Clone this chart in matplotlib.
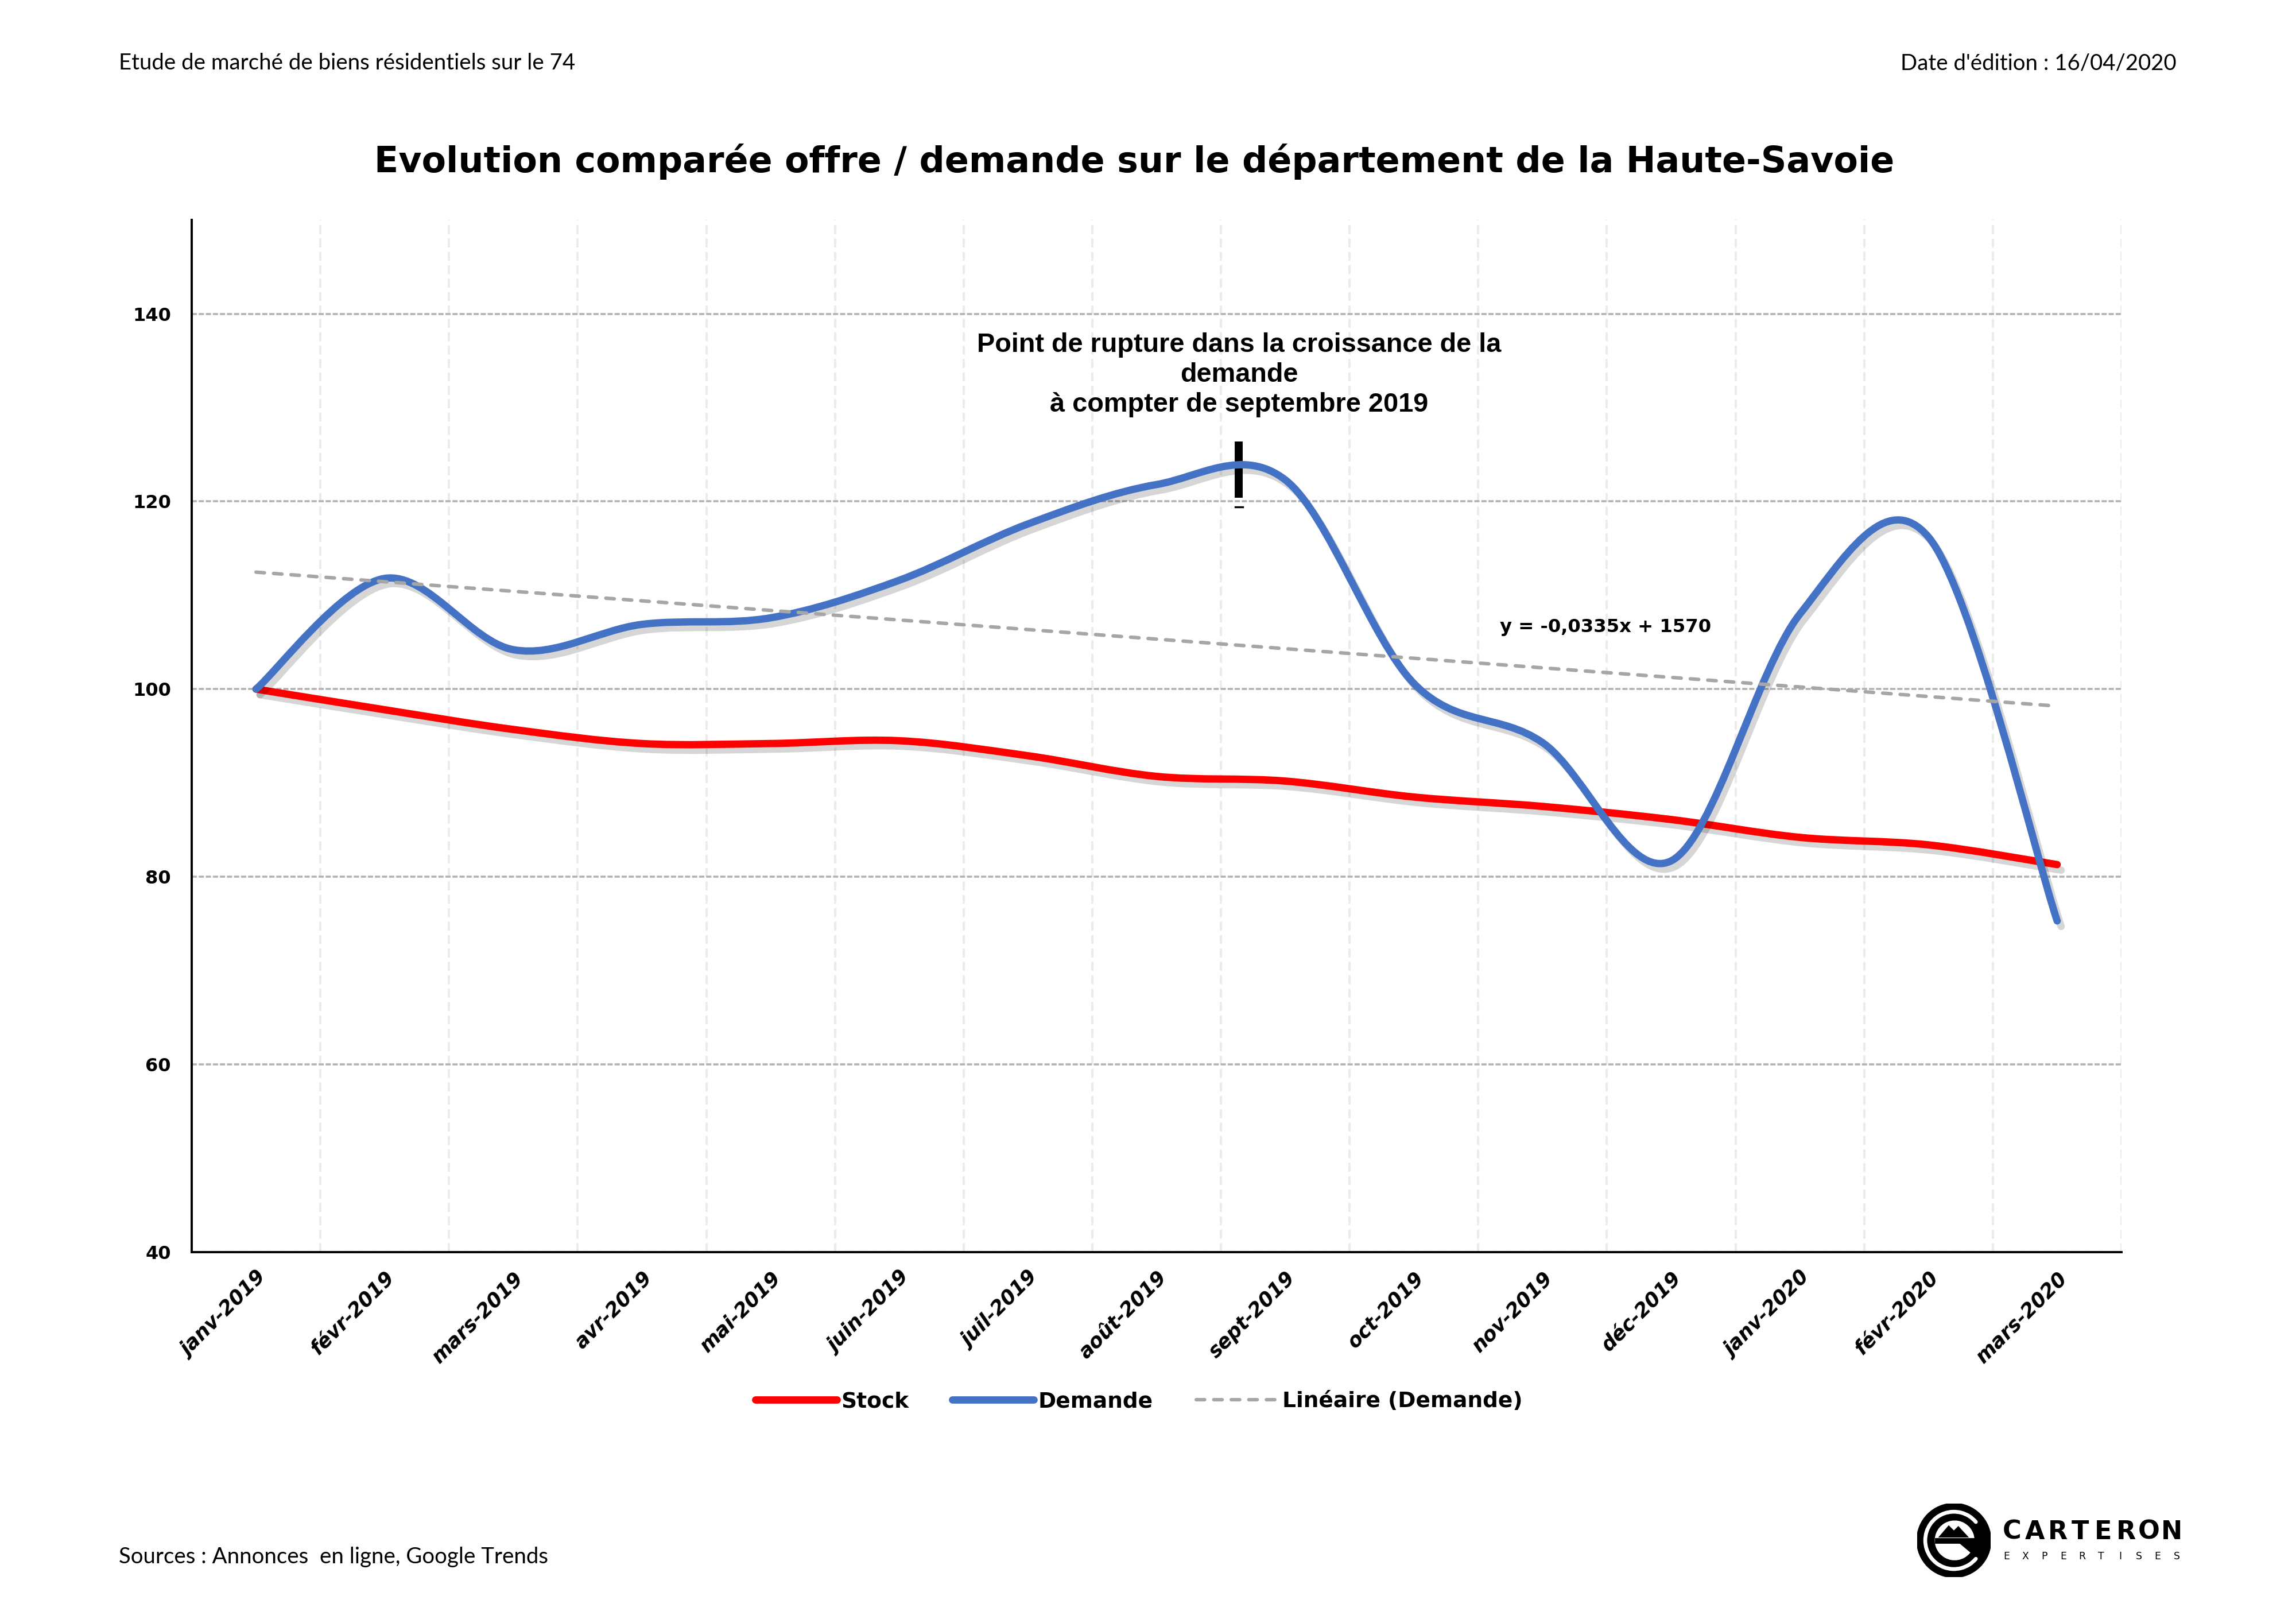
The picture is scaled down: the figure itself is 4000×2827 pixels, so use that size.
import numpy as np
import matplotlib
matplotlib.use("Agg")
import matplotlib.pyplot as plt
import matplotlib.patheffects as pe
from matplotlib.path import Path
from matplotlib.patches import PathPatch, Circle, Arc, Wedge, Rectangle, Polygon
from matplotlib.lines import Line2D

# data
mois = ["janv-2019", "févr-2019", "mars-2019", "avr-2019", "mai-2019", "juin-2019",
        "juil-2019", "août-2019", "sept-2019", "oct-2019", "nov-2019", "déc-2019",
        "janv-2020", "févr-2020", "mars-2020"]
stock = [100, 97.8, 95.7, 94.2, 94.2, 94.5, 92.9, 90.7, 90.2, 88.5, 87.5, 86.1, 84.2, 83.4, 81.3]
demande = [100, 111.8, 104.2, 106.9, 107.6, 111.6, 117.6, 121.8, 122.3, 100.6, 94.3, 81.7, 108.0, 116.2, 75.3]
y_ticks = [40, 60, 80, 100, 120, 140]

titre = "Evolution comparée offre / demande sur le département de la Haute-Savoie"
note = "Point de rupture dans la croissance de la\ndemande\nà compter de septembre 2019"
equation = "y = -0,0335x + 1570"

RED = "#ff0000"
BLUE = "#4472c4"
GREY = "#a6a6a6"


def smooth_path(vals):
    # excel-like smoothed line : cubic bezier through each point
    pts = np.column_stack([np.arange(len(vals), dtype=float), np.asarray(vals, float)])
    ext = np.vstack([pts[0], pts, pts[-1]])
    verts, codes = [pts[0]], [Path.MOVETO]
    for i in range(len(pts) - 1):
        p0, p1, p2, p3 = ext[i], ext[i + 1], ext[i + 2], ext[i + 3]
        verts += [p1 + (p2 - p0) / 6, p2 - (p3 - p1) / 6, p2]
        codes += [Path.CURVE4] * 3
    return Path(verts, codes)


fig = plt.figure(figsize=(20, 14.135), dpi=200)
ax = fig.add_axes([0.0835, 0.2285, 0.8405, 0.636])

x = np.arange(len(mois))
shadow = [pe.SimpleLineShadow(offset=(2.5, -3.5), shadow_color="black", alpha=0.16), pe.Normal()]

for serie, col, z in [(stock, RED, 4), (demande, BLUE, 5)]:
    patch = PathPatch(smooth_path(serie), fill=False, edgecolor=col, lw=4.6,
                      capstyle="round", joinstyle="round", zorder=z, path_effects=shadow)
    ax.add_patch(patch)

# linear trend of the demand
a, b = np.polyfit(x, demande, 1)
ax.plot(x[[0, -1]], a * x[[0, -1]] + b, color=GREY, lw=2.2, dashes=(2.4, 2.6),
        dash_capstyle="round", zorder=6)

# rupture marker
x_note = 7.64
ax.plot([x_note, x_note], [120.4, 126.4], color="black", lw=5, solid_capstyle="butt", zorder=3)
ax.plot([x_note - 0.03, x_note + 0.03], [119.4, 119.4], color="black", lw=1.2, zorder=3)
ax.text(x_note, 133.5, note, ha="center", va="center", fontsize=16.9, fontweight="bold",
        family="Liberation Sans", linespacing=1.23, zorder=7)
ax.text(10.49, 106.6, equation, ha="center", va="center", fontsize=11.6,
        fontweight="bold", family="DejaVu Sans", zorder=7)

ax.set_xlim(-0.5, 14.5)
ax.set_ylim(40, 150)
ax.set_xticks(x)
ax.set_xticklabels(mois, rotation=45, ha="right", rotation_mode="anchor",
                   fontsize=12.5, fontweight="bold", style="italic")
ax.set_xticks(np.arange(0.5, 15, 1), minor=True)
ax.set_yticks(y_ticks)
ax.set_yticklabels([str(v) for v in y_ticks], fontsize=11.5, fontweight="bold")
ax.tick_params(axis="x", which="both", length=0, pad=10)
ax.tick_params(axis="y", length=0, pad=13)

ax.grid(axis="y", which="major", color="#b3b3b3", lw=1.3, linestyle=(0, (2.5, 0.9)))
ax.grid(axis="x", which="minor", color="#ebebeb", lw=1.4, linestyle=(0, (4, 2)))
ax.set_axisbelow(True)
for s in ["top", "right"]:
    ax.spines[s].set_visible(False)
for s in ["left", "bottom"]:
    ax.spines[s].set_linewidth(1.4)
    ax.spines[s].set_color("black")

handles = [Line2D([], [], color=RED, lw=4.6, solid_capstyle="round"),
           Line2D([], [], color=BLUE, lw=4.6, solid_capstyle="round"),
           Line2D([], [], color=GREY, lw=2.2, dashes=(2.4, 2.6), dash_capstyle="round")]
fig.legend(handles, ["Stock", "Demande", "Linéaire (Demande)"], loc="center",
           bbox_to_anchor=(0.496, 0.1365), ncol=3, frameon=False, handlelength=3.8,
           handletextpad=0.2, columnspacing=2.0,
           prop={"weight": "bold", "size": 13.5, "family": "DejaVu Sans"})

fig.text(0.494, 0.9006, titre, ha="center", va="center", fontsize=22.3, fontweight="bold")
fig.text(0.0518, 0.961, "Etude de marché de biens résidentiels sur le 74", ha="left",
         va="center", fontsize=13.8, family="Lato", color="black")
fig.text(0.948, 0.961, "Date d'édition : 16/04/2020", ha="right", va="center",
         fontsize=13.8, family="Lato", color="black")
fig.text(0.0518, 0.0407, "Sources : Annonces  en ligne, Google Trends", ha="left",
         va="center", fontsize=13.8, family="Lato", color="black")

# logo
lg = fig.add_axes([0.851 - 0.016, 0.0509 - 0.02264, 0.032, 0.04528])
lg.set_xlim(-1, 1)
lg.set_ylim(-1, 1)
lg.axis("off")
lg.add_patch(Circle((0, 0), 1, color="black"))
lg.add_patch(Arc((0, 0), 1.56, 1.56, theta1=40, theta2=320, color="white", lw=2.4, capstyle="round"))
lg.add_patch(Wedge((0.02, 0), 0.52, 0, 320, color="white"))
lg.add_patch(Rectangle((-0.5, -0.06), 1.1, 0.11, color="black"))
lg.add_patch(Polygon([(-0.38, 0.1), (-0.14, 0.38), (0.0, 0.24), (0.12, 0.36), (0.36, 0.1)], color="black"))

for word, x0, x1, yy, fs in [("CARTERON", 0.8763, 0.9458, 0.0562, 16),
                             ("EXPERTISES", 0.8740, 0.9480, 0.0410, 6.2)]:
    for ch, xx in zip(word, np.linspace(x0, x1, len(word))):
        fig.text(xx, yy, ch, ha="center", va="center", fontsize=fs,
                 fontweight="bold" if fs > 10 else "normal", family="DejaVu Sans")

fig.savefig("out.png", dpi=200)
